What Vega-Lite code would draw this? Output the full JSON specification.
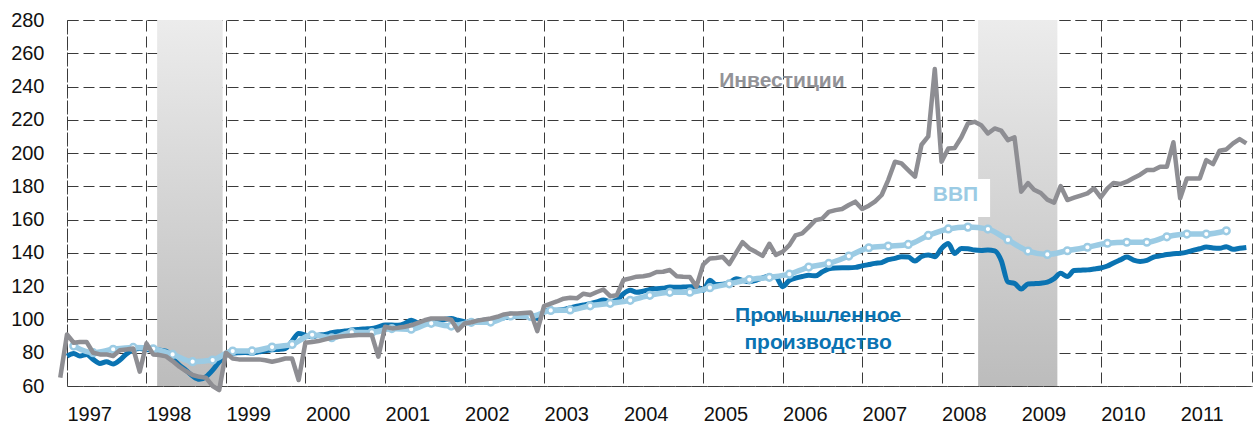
{
  "$schema": "https://vega.github.io/schema/vega-lite/v6.json",
  "width": 1185,
  "height": 366,
  "autosize": {"type": "none"},
  "padding": {"left": 67, "top": 20, "right": 2, "bottom": 39},
  "background": "white",
  "config": {
    "view": {"stroke": "#444444", "strokeDash": [11, 5], "strokeWidth": 1},
    "font": "Liberation Sans",
    "axis": {
      "domain": false, "ticks": false, "grid": true,
      "gridColor": "#3a3a3a", "gridDash": [11, 5], "gridWidth": 1, "gridOpacity": 1,
      "labelFont": "Liberation Sans", "labelFontSize": 20, "labelColor": "#111111",
      "labelOverlap": false, "labelFlush": false, "labelBound": false,
      "title": null
    },
    "axisY": {"labelOverlap": false, "labelSeparation": 0, "labelPadding": 23}
  },
  "datasets": {
    "m": [
      {"d":"1996-12","inv":65},
      {"d":"1997-01","inv":91,"ip":78},{"d":"1997-02","inv":86,"ip":79.6},{"d":"1997-03","inv":86.5,"ip":78},{"d":"1997-04","inv":86.5,"ip":79},{"d":"1997-05","inv":80,"ip":76},{"d":"1997-06","inv":79,"ip":73.6},{"d":"1997-07","inv":79,"ip":74.6},{"d":"1997-08","inv":78,"ip":73.2},{"d":"1997-09","inv":81.5,"ip":75.6},{"d":"1997-10","inv":82,"ip":79.2},{"d":"1997-11","inv":82.6,"ip":81.6},{"d":"1997-12","inv":68.6,"ip":82.6},
      {"d":"1998-01","inv":85.6,"ip":82},{"d":"1998-02","inv":79,"ip":81.8},{"d":"1998-03","inv":78.6,"ip":81.6},{"d":"1998-04","inv":77.8,"ip":81},{"d":"1998-05","inv":75,"ip":76.6},{"d":"1998-06","inv":71.6,"ip":72.6},{"d":"1998-07","inv":69,"ip":69.5},{"d":"1998-08","inv":66.6,"ip":66},{"d":"1998-09","inv":65.5,"ip":64},{"d":"1998-10","inv":65,"ip":65.5},{"d":"1998-11","inv":60,"ip":69.5},{"d":"1998-12","inv":57.5,"ip":74.5},
      {"d":"1999-01","inv":80,"ip":78.5},{"d":"1999-02","inv":76.5,"ip":79.6},{"d":"1999-03","inv":76,"ip":80},{"d":"1999-04","inv":76,"ip":80.2},{"d":"1999-05","inv":76,"ip":79.8},{"d":"1999-06","inv":76,"ip":80.5},{"d":"1999-07","inv":75.5,"ip":81.2},{"d":"1999-08","inv":74.6,"ip":81.8},{"d":"1999-09","inv":75.5,"ip":82},{"d":"1999-10","inv":76.5,"ip":82.5},{"d":"1999-11","inv":76.5,"ip":87},{"d":"1999-12","inv":63.6,"ip":91.6},
      {"d":"2000-01","inv":86,"ip":90.6},{"d":"2000-02","inv":86.5,"ip":89.6},{"d":"2000-03","inv":87,"ip":90.5},{"d":"2000-04","inv":88,"ip":91},{"d":"2000-05","inv":89,"ip":92},{"d":"2000-06","inv":89.6,"ip":92.6},{"d":"2000-07","inv":90,"ip":93},{"d":"2000-08","inv":90.3,"ip":93.6},{"d":"2000-09","inv":90.6,"ip":94},{"d":"2000-10","inv":90.6,"ip":94.3},{"d":"2000-11","inv":90.6,"ip":94.6},{"d":"2000-12","inv":77.6,"ip":95.5},
      {"d":"2001-01","inv":95.6,"ip":96.6},{"d":"2001-02","inv":94.6,"ip":96.6},{"d":"2001-03","inv":95,"ip":96.5},{"d":"2001-04","inv":95.6,"ip":97.5},{"d":"2001-05","inv":96.5,"ip":99.5},{"d":"2001-06","inv":98,"ip":98},{"d":"2001-07","inv":99.5,"ip":98},{"d":"2001-08","inv":100.6,"ip":98.5},{"d":"2001-09","inv":100.6,"ip":99},{"d":"2001-10","inv":100.6,"ip":100},{"d":"2001-11","inv":99.8,"ip":100.6},{"d":"2001-12","inv":93.4,"ip":99.5},
      {"d":"2002-01","inv":97.6,"ip":98.6},{"d":"2002-02","inv":98.3,"ip":98},{"d":"2002-03","inv":99.3,"ip":99},{"d":"2002-04","inv":100,"ip":99.5},{"d":"2002-05","inv":100.6,"ip":100},{"d":"2002-06","inv":101.6,"ip":100.5},{"d":"2002-07","inv":103,"ip":101},{"d":"2002-08","inv":103.6,"ip":101.5},{"d":"2002-09","inv":103.6,"ip":102},{"d":"2002-10","inv":103.9,"ip":102},{"d":"2002-11","inv":104.2,"ip":102},{"d":"2002-12","inv":93,"ip":100.6},
      {"d":"2003-01","inv":108,"ip":104.7},{"d":"2003-02","inv":109.5,"ip":105.7},{"d":"2003-03","inv":110.8,"ip":105.5},{"d":"2003-04","inv":112.5,"ip":106},{"d":"2003-05","inv":113,"ip":107},{"d":"2003-06","inv":112.7,"ip":108},{"d":"2003-07","inv":115.5,"ip":108.7},{"d":"2003-08","inv":114.7,"ip":109.5},{"d":"2003-09","inv":116.5,"ip":110.5},{"d":"2003-10","inv":118,"ip":111.7},{"d":"2003-11","inv":114,"ip":110.7},{"d":"2003-12","inv":114.5,"ip":111.5},
      {"d":"2004-01","inv":123.7,"ip":115.5},{"d":"2004-02","inv":124.7,"ip":117.5},{"d":"2004-03","inv":125.7,"ip":116.3},{"d":"2004-04","inv":126,"ip":117},{"d":"2004-05","inv":126.7,"ip":118.1},{"d":"2004-06","inv":128.5,"ip":118.5},{"d":"2004-07","inv":128.7,"ip":118.7},{"d":"2004-08","inv":129.7,"ip":119.5},{"d":"2004-09","inv":126,"ip":119.3},{"d":"2004-10","inv":125.7,"ip":119.5},{"d":"2004-11","inv":125.5,"ip":119.7},{"d":"2004-12","inv":119.7,"ip":119.7},
      {"d":"2005-01","inv":133,"ip":117.5},{"d":"2005-02","inv":136.7,"ip":123.5},{"d":"2005-03","inv":137,"ip":121},{"d":"2005-04","inv":137.5,"ip":121.2},{"d":"2005-05","inv":133.3,"ip":122},{"d":"2005-06","inv":140,"ip":124.5},{"d":"2005-07","inv":146.5,"ip":123.5},{"d":"2005-08","inv":142.7,"ip":122.7},{"d":"2005-09","inv":140.5,"ip":123.5},{"d":"2005-10","inv":138.2,"ip":125},{"d":"2005-11","inv":145.5,"ip":126},{"d":"2005-12","inv":138.8,"ip":125.7},
      {"d":"2006-01","inv":140.7,"ip":119.7},{"d":"2006-02","inv":144.7,"ip":123.5},{"d":"2006-03","inv":150.5,"ip":124.8},{"d":"2006-04","inv":151.7,"ip":125.8},{"d":"2006-05","inv":155.5,"ip":126.5},{"d":"2006-06","inv":159.7,"ip":126.2},{"d":"2006-07","inv":160.5,"ip":128.5},{"d":"2006-08","inv":164.7,"ip":130.5},{"d":"2006-09","inv":165.7,"ip":131},{"d":"2006-10","inv":166.4,"ip":131.1},{"d":"2006-11","inv":168.8,"ip":131.1},{"d":"2006-12","inv":170.8,"ip":131.3},
      {"d":"2007-01","inv":166.4,"ip":132.2},{"d":"2007-02","inv":168.4,"ip":133},{"d":"2007-03","inv":170.8,"ip":133.7},{"d":"2007-04","inv":174.8,"ip":134.2},{"d":"2007-05","inv":183.8,"ip":135.9},{"d":"2007-06","inv":194.8,"ip":136.7},{"d":"2007-07","inv":193.8,"ip":137.7},{"d":"2007-08","inv":189.8,"ip":137.5},{"d":"2007-09","inv":185.8,"ip":135.1},{"d":"2007-10","inv":205,"ip":137.8},{"d":"2007-11","inv":210,"ip":138.8},{"d":"2007-12","inv":250.5,"ip":137.7},
      {"d":"2008-01","inv":194.8,"ip":142.7},{"d":"2008-02","inv":202.8,"ip":145.7},{"d":"2008-03","inv":203,"ip":139.7},{"d":"2008-04","inv":209.5,"ip":142.7},{"d":"2008-05","inv":217.8,"ip":142.5},{"d":"2008-06","inv":218.8,"ip":141.7},{"d":"2008-07","inv":216.8,"ip":141.5},{"d":"2008-08","inv":211.8,"ip":141.7},{"d":"2008-09","inv":214.8,"ip":141.2},{"d":"2008-10","inv":213.5,"ip":135.5},{"d":"2008-11","inv":207.8,"ip":122.5},{"d":"2008-12","inv":209.5,"ip":121.7},
      {"d":"2009-01","inv":176.8,"ip":118.3},{"d":"2009-02","inv":182,"ip":121.3},{"d":"2009-03","inv":178,"ip":121.5},{"d":"2009-04","inv":176,"ip":121.8},{"d":"2009-05","inv":172,"ip":122.4},{"d":"2009-06","inv":170.2,"ip":124.5},{"d":"2009-07","inv":180.2,"ip":127.7},{"d":"2009-08","inv":171.8,"ip":125.8},{"d":"2009-09","inv":173.2,"ip":129.4},{"d":"2009-10","inv":174.5,"ip":129.6},{"d":"2009-11","inv":175.8,"ip":129.8},{"d":"2009-12","inv":178.8,"ip":130.3},
      {"d":"2010-01","inv":173.4,"ip":130.9},{"d":"2010-02","inv":178.8,"ip":132.1},{"d":"2010-03","inv":182,"ip":134},{"d":"2010-04","inv":181.4,"ip":135.8},{"d":"2010-05","inv":182.8,"ip":137.5},{"d":"2010-06","inv":185,"ip":135.7},{"d":"2010-07","inv":187,"ip":134.9},{"d":"2010-08","inv":189.8,"ip":135.5},{"d":"2010-09","inv":189.8,"ip":137.5},{"d":"2010-10","inv":191.8,"ip":138.2},{"d":"2010-11","inv":191.8,"ip":139},{"d":"2010-12","inv":206.5,"ip":139.5},
      {"d":"2011-01","inv":172.8,"ip":139.8},{"d":"2011-02","inv":184.8,"ip":140.5},{"d":"2011-03","inv":184.8,"ip":141.5},{"d":"2011-04","inv":184.8,"ip":142.5},{"d":"2011-05","inv":195.8,"ip":143.5},{"d":"2011-06","inv":193.4,"ip":143},{"d":"2011-07","inv":201.4,"ip":142.8},{"d":"2011-08","inv":202.2,"ip":143.7},{"d":"2011-09","inv":205.8,"ip":142.2},{"d":"2011-10","inv":208.4,"ip":142.8},{"d":"2011-11","inv":205.8,"ip":143.3}
    ],
    "q": [
      {"d":"1997-02","gdp":84.0},{"d":"1997-05","gdp":80.0},{"d":"1997-08","gdp":82.1},{"d":"1997-11","gdp":83.2},
      {"d":"1998-02","gdp":82.4},{"d":"1998-05","gdp":79.0},{"d":"1998-08","gdp":74.6},{"d":"1998-11","gdp":75.6},
      {"d":"1999-02","gdp":81.0},{"d":"1999-05","gdp":81.1},{"d":"1999-08","gdp":83.4},{"d":"1999-11","gdp":85.0},
      {"d":"2000-02","gdp":90.8},{"d":"2000-05","gdp":89.0},{"d":"2000-08","gdp":92.2},{"d":"2000-11","gdp":92.2},
      {"d":"2001-02","gdp":94.5},{"d":"2001-05","gdp":94.1},{"d":"2001-08","gdp":97.7},{"d":"2001-11","gdp":96.0},
      {"d":"2002-02","gdp":98.3},{"d":"2002-05","gdp":98.4},{"d":"2002-08","gdp":102.1},{"d":"2002-11","gdp":101.8},
      {"d":"2003-02","gdp":105.4},{"d":"2003-05","gdp":105.7},{"d":"2003-08","gdp":108.2},{"d":"2003-11","gdp":109.7},
      {"d":"2004-02","gdp":111.5},{"d":"2004-05","gdp":114.5},{"d":"2004-08","gdp":116.3},{"d":"2004-11","gdp":116.4},
      {"d":"2005-02","gdp":119.1},{"d":"2005-05","gdp":121.4},{"d":"2005-08","gdp":124.0},{"d":"2005-11","gdp":125.3},
      {"d":"2006-02","gdp":127.2},{"d":"2006-05","gdp":131.5},{"d":"2006-08","gdp":133.7},{"d":"2006-11","gdp":138.1},
      {"d":"2007-02","gdp":143.1},{"d":"2007-05","gdp":144.1},{"d":"2007-08","gdp":145.1},{"d":"2007-11","gdp":150.5},
      {"d":"2008-02","gdp":154.4},{"d":"2008-05","gdp":155.5},{"d":"2008-08","gdp":154.3},{"d":"2008-11","gdp":147.8},
      {"d":"2009-02","gdp":141.1},{"d":"2009-05","gdp":139.1},{"d":"2009-08","gdp":141.3},{"d":"2009-11","gdp":143.4},
      {"d":"2010-02","gdp":145.8},{"d":"2010-05","gdp":146.4},{"d":"2010-08","gdp":146.4},{"d":"2010-11","gdp":149.7},
      {"d":"2011-02","gdp":151.3},{"d":"2011-05","gdp":151.3},{"d":"2011-08","gdp":153.3}
    ],
    "bands": [
      {"d":"1998-02-19","d2":"1998-12-17"},
      {"d":"2008-06-17","d2":"2009-06-16"}
    ],
    "box": [
      {"d":"2007-10-20","d2":"2008-08-11","v":184.4,"v2":161.6}
    ],
    "labels": [
      {"d":"2005-12-29","v":243.5,"t":"Инвестиции","s":"inv"},
      {"d":"2008-03-05","v":174.8,"t":"ВВП","s":"gdp"},
      {"d":"2006-06-13","v":102.1,"t":"Промышленное","s":"ip"},
      {"d":"2006-06-13","v":85.7,"t":"производство","s":"ip"}
    ]
  },
  "encoding": {
    "x": {
      "field": "d", "type": "temporal", "title": null,
      "scale": {"type": "utc", "domain": [{"year": 1997, "month": 1, "date": 1, "utc": true}, {"year": 2011, "month": 11, "date": 27, "utc": true}]},
      "axis": {
        "values": [
          {"year": 1997, "month": 1, "date": 1, "utc": true}, {"year": 1998, "month": 1, "date": 1, "utc": true},
          {"year": 1999, "month": 1, "date": 1, "utc": true}, {"year": 2000, "month": 1, "date": 1, "utc": true},
          {"year": 2001, "month": 1, "date": 1, "utc": true}, {"year": 2002, "month": 1, "date": 1, "utc": true},
          {"year": 2003, "month": 1, "date": 1, "utc": true}, {"year": 2004, "month": 1, "date": 1, "utc": true},
          {"year": 2005, "month": 1, "date": 1, "utc": true}, {"year": 2006, "month": 1, "date": 1, "utc": true},
          {"year": 2007, "month": 1, "date": 1, "utc": true}, {"year": 2008, "month": 1, "date": 1, "utc": true},
          {"year": 2009, "month": 1, "date": 1, "utc": true}, {"year": 2010, "month": 1, "date": 1, "utc": true},
          {"year": 2011, "month": 1, "date": 1, "utc": true}
        ],
        "format": "%Y", "labelAlign": "left", "labelBaseline": "top", "labelPadding": 18,
        "labelFlush": false, "labelOverlap": false, "labelBound": false, "title": null
      }
    }
  },
  "layer": [
    {
      "data": {"name": "bands"},
      "mark": {
        "type": "rect",
        "fill": {"gradient": "linear", "x1": 0, "y1": 0, "x2": 0, "y2": 1,
          "stops": [{"offset": 0, "color": "#ececec"}, {"offset": 1, "color": "#bcbcbc"}]},
        "strokeWidth": 0
      },
      "encoding": {
        "x2": {"field": "d2"},
        "y": {
          "datum": 280, "type": "quantitative", "title": null,
          "scale": {"domain": [60, 280], "nice": false, "zero": false},
          "axis": {"values": [60, 80, 100, 120, 140, 160, 180, 200, 220, 240, 260, 280], "labelPadding": 23,
            "labelOverlap": false, "labelFlush": false, "labelBound": false, "title": null}
        },
        "y2": {"datum": 60}
      }
    },
    {
      "data": {"name": "box"},
      "mark": {"type": "rect", "fill": "white", "strokeWidth": 0},
      "encoding": {
        "x2": {"field": "d2"},
        "y": {"field": "v", "type": "quantitative", "title": null,
          "axis": {"values": [60, 80, 100, 120, 140, 160, 180, 200, 220, 240, 260, 280], "labelOverlap": false, "title": null}},
        "y2": {"field": "v2"}
      }
    },
    {
      "data": {"name": "m"},
      "mark": {"type": "line", "color": "#0a73b2", "strokeWidth": 5, "strokeJoin": "round", "interpolate": "monotone"},
      "encoding": {
        "y": {"field": "ip", "type": "quantitative", "title": null,
          "axis": {"values": [60, 80, 100, 120, 140, 160, 180, 200, 220, 240, 260, 280], "labelOverlap": false, "title": null}}
      }
    },
    {
      "data": {"name": "q"},
      "mark": {"type": "line", "color": "#9bcbe4", "strokeWidth": 5.5, "strokeJoin": "round", "interpolate": "monotone"},
      "encoding": {
        "y": {"field": "gdp", "type": "quantitative", "title": null,
          "axis": {"values": [60, 80, 100, 120, 140, 160, 180, 200, 220, 240, 260, 280], "labelOverlap": false, "title": null}}
      }
    },
    {
      "data": {"name": "q"},
      "mark": {"type": "point", "shape": "circle", "filled": true, "fill": "white", "stroke": "#9bcbe4", "strokeWidth": 2.5, "size": 45, "opacity": 1},
      "encoding": {
        "y": {"field": "gdp", "type": "quantitative", "title": null,
          "axis": {"values": [60, 80, 100, 120, 140, 160, 180, 200, 220, 240, 260, 280], "labelOverlap": false, "title": null}}
      }
    },
    {
      "data": {"name": "m"},
      "mark": {"type": "line", "color": "#8e8e93", "strokeWidth": 4.5, "strokeJoin": "round"},
      "encoding": {
        "y": {"field": "inv", "type": "quantitative", "title": null,
          "axis": {"values": [60, 80, 100, 120, 140, 160, 180, 200, 220, 240, 260, 280], "labelOverlap": false, "title": null}}
      }
    },
    {
      "data": {"name": "labels"},
      "mark": {"type": "text", "fontWeight": "bold", "fontSize": 21, "align": "center", "baseline": "middle", "font": "Liberation Sans"},
      "encoding": {
        "y": {"field": "v", "type": "quantitative", "title": null,
          "axis": {"values": [60, 80, 100, 120, 140, 160, 180, 200, 220, 240, 260, 280], "labelOverlap": false, "title": null}},
        "text": {"field": "t"},
        "color": {"field": "s", "type": "nominal", "legend": null,
          "scale": {"domain": ["inv", "gdp", "ip"], "range": ["#939398", "#9bcbe4", "#0a73b2"]}}
      }
    }
  ]
}
